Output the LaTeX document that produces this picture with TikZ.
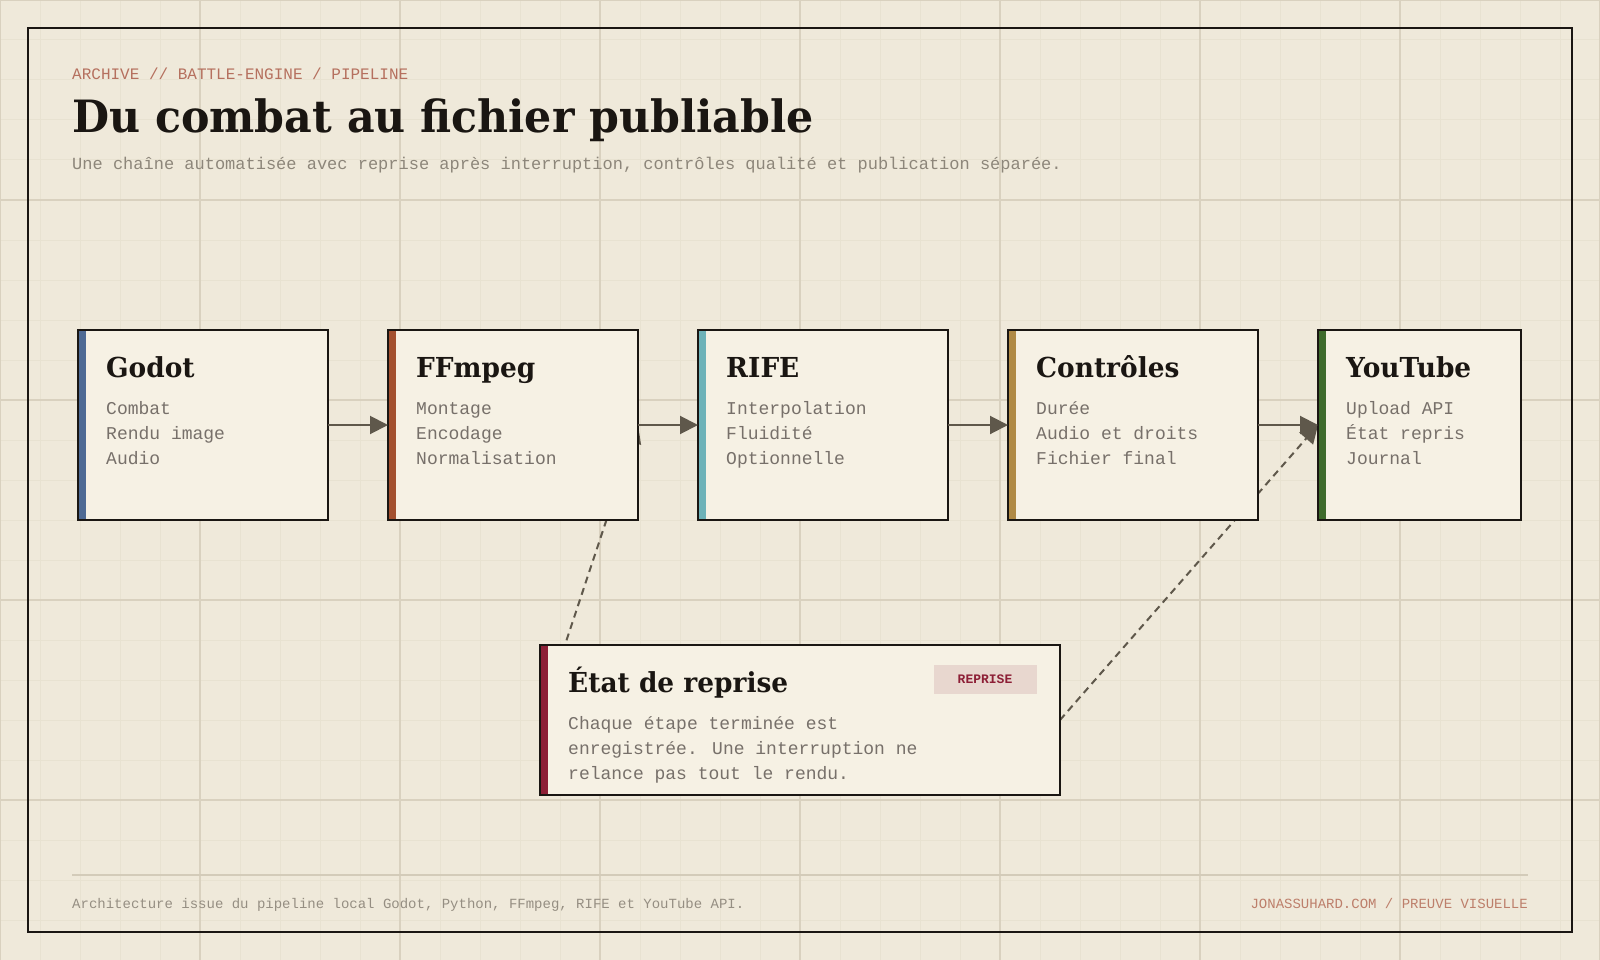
\documentclass[tikz,border=0pt]{standalone}
\usepackage{fontspec}
\setmainfont{DejaVu Serif}
\newfontfamily\cardserif{DejaVu Serif}[FakeStretch=0.96]
\newfontfamily\cardmono{Liberation Mono}
\usetikzlibrary{arrows.meta,positioning,backgrounds}
\definecolor{paper}{HTML}{EFE9DA}
\definecolor{card}{HTML}{F6F1E4}
\definecolor{ink}{HTML}{1A1612}
\definecolor{gridmajor}{HTML}{D9D1BF}
\definecolor{gridminor}{HTML}{E8E2D1}
\definecolor{linkgrey}{HTML}{5F584B}
\definecolor{kickred}{HTML}{B5705E}
\definecolor{subgrey}{HTML}{8D867A}
\definecolor{itemgrey}{HTML}{77706A}
\definecolor{footgrey}{HTML}{958E82}
\definecolor{footred}{HTML}{BD7F6B}
\definecolor{footrulec}{HTML}{D3CBB9}
\definecolor{godotblue}{HTML}{4E6A94}
\definecolor{ffmpegrust}{HTML}{A3502F}
\definecolor{rifeteal}{HTML}{6DB2B8}
\definecolor{ctrlochre}{HTML}{B08A45}
\definecolor{ytgreen}{HTML}{3E6B2C}
\definecolor{etatred}{HTML}{8D1F36}
\definecolor{badgepink}{HTML}{E8D7CF}
\tikzset{
	stage/.style={draw=ink, line width=2pt, fill=card, anchor=west, inner sep=0pt, outer sep=0pt,
		minimum width=250pt, minimum height=190pt,
		path picture={\fill[#1] (path picture bounding box.north west) rectangle ([xshift=8pt]path picture bounding box.south west);}},
	stitle/.style={anchor=base west, inner sep=0pt, text=ink, font=\cardserif\bfseries\fontsize{27.5}{27.5}\selectfont},
	sline/.style={anchor=base west, inner sep=0pt, text=itemgrey, font=\cardmono\fontsize{18}{18}\selectfont},
	kicker/.style={anchor=base west, inner sep=0pt, text=kickred, font=\cardmono\fontsize{16}{16}\selectfont},
	headline/.style={anchor=base west, inner sep=0pt, text=ink, font=\cardserif\bfseries\fontsize{44.5}{44.5}\selectfont},
	subline/.style={anchor=base west, inner sep=0pt, text=subgrey, font=\cardmono\fontsize{17}{17}\selectfont},
	footnote/.style={anchor=base west, inner sep=0pt, text=footgrey, font=\cardmono\fontsize{14}{14}\selectfont},
	badge/.style={fill=badgepink, text=etatred, inner sep=0pt, minimum width=103pt, minimum height=29pt,
		font=\cardmono\bfseries\fontsize{13}{13}\selectfont},
	trans/.style={draw=linkgrey, line width=2pt, -{Triangle[length=18pt,width=18pt]}},
	dashtrans/.style={trans, dash pattern=on 7pt off 5pt},
}
% title and list of one stage card
\newcommand{\stagetext}[3]{%
	\node[stitle] (#1-title) at ([shift={(28,47)}]#1.north west) {#2};
	\foreach \l [count=\i] in {#3}
		\node[sline] (#1-\i) at ([shift={(28,60+24.8*\i)}]#1.north west) {\l};
}

\begin{document}
\begin{tikzpicture}[x=1pt,y=-1pt]
	\useasboundingbox (0,0) rectangle (1600,960);
	\begin{scope}[on background layer]
		\fill[paper] (0,0) rectangle (1600,960);
		\foreach \gx in {0,40,...,1600}
			\draw[gridminor, line width=1pt] (\gx,0) -- (\gx,960);
		\foreach \gy in {0,40,...,960}
			\draw[gridminor, line width=1pt] (0,\gy) -- (1600,\gy);
		\foreach \gx in {0,200,...,1600}
			\draw[gridmajor, line width=1.5pt] (\gx,0) -- (\gx,960);
		\foreach \gy in {0,200,...,960}
			\draw[gridmajor, line width=1.5pt] (0,\gy) -- (1600,\gy);
	\end{scope}
	\draw[ink, line width=2pt] (28,28) rectangle (1572,932);

	\node[kicker] (kicker) at (72,80) {ARCHIVE // BATTLE-ENGINE / PIPELINE};
	\node[headline] (headline) at (72,133) {Du combat au fichier publiable};
	\node[subline] (subline) at (72,170) {Une chaîne automatisée avec reprise après interruption, contrôles qualité et publication séparée.};

	\node[stage=godotblue] (godot) at (78,425) {};
	\node[stage=ffmpegrust, right=60pt of godot] (ffmpeg) {};
	\node[stage=rifeteal, right=60pt of ffmpeg] (rife) {};
	\node[stage=ctrlochre, right=60pt of rife] (controles) {};
	\node[stage=ytgreen, minimum width=203pt, right=60pt of controles] (youtube) {};
	\node[stage=etatred, minimum width=520pt, minimum height=150pt] (etat) at (540,720) {};

	\stagetext{godot}{Godot}{Combat,Rendu image,Audio}
	\stagetext{ffmpeg}{FFmpeg}{Montage,Encodage,Normalisation}
	\stagetext{rife}{RIFE}{Interpolation,Fluidité,Optionnelle}
	\stagetext{controles}{Contrôles}{Durée,Audio et droits,Fichier final}
	\stagetext{youtube}{YouTube}{Upload API,État repris,Journal}
	\stagetext{etat}{État de reprise}{Chaque étape terminée est,%
		enregistrée. Une interruption ne,%
		relance pas tout le rendu.}
	\node[badge] (etat-badge) at ([shift={(-75,34)}]etat.north east) {REPRISE};

	\draw[trans] (godot) -- (ffmpeg);
	\draw[trans] (ffmpeg) -- (rife);
	\draw[trans] (rife) -- (controles);
	\draw[trans] (controles) -- (youtube);
	% resume links run under the cards
	\begin{scope}[on background layer]
		\draw[dashtrans] (etat.west) -- (ffmpeg.east);
		\draw[dashtrans] (etat.east) -- (youtube.west);
	\end{scope}

	\draw[footrulec, line width=2pt] (72,875) -- (1528,875);
	\node[footnote] (foot-left) at (72,908) {Architecture issue du pipeline local Godot, Python, FFmpeg, RIFE et YouTube API.};
	\node[footnote, anchor=base east, text=footred] (foot-right) at (1528,908) {JONASSUHARD.COM / PREUVE VISUELLE};
\end{tikzpicture}
\end{document}
